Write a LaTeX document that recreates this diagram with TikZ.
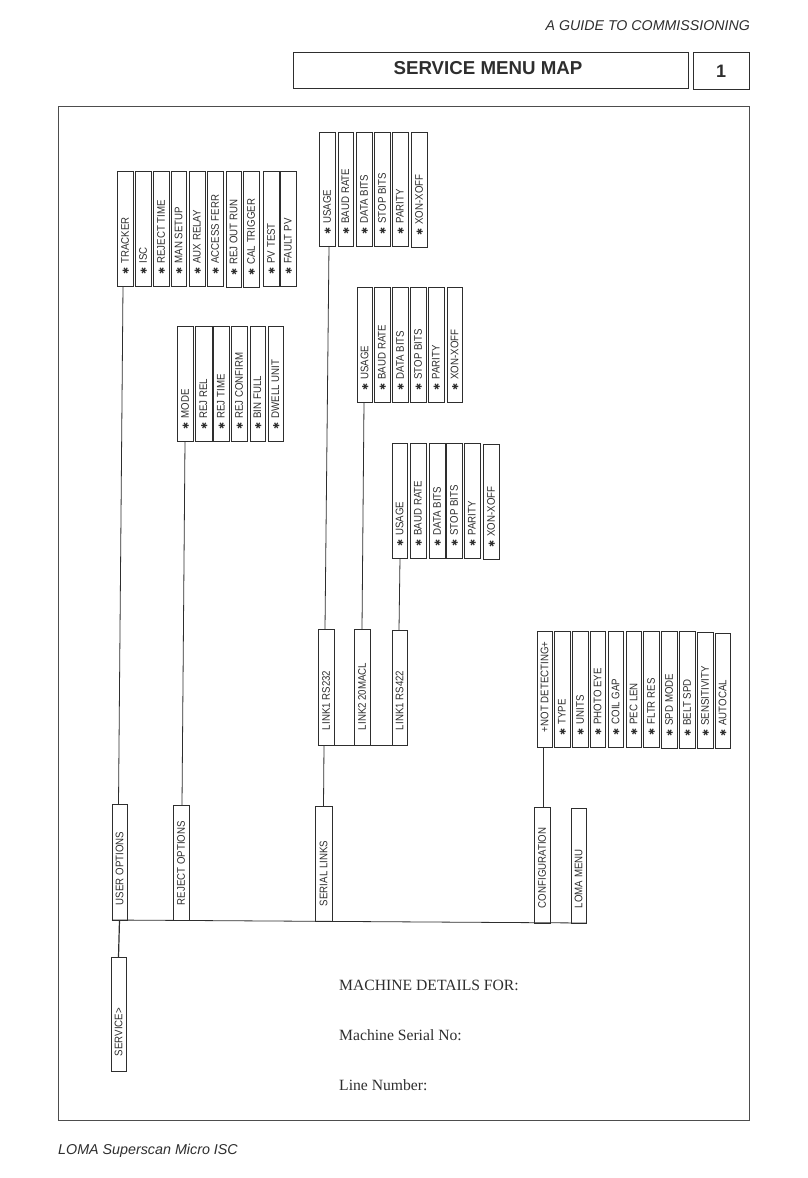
\documentclass[tikz,border=0pt]{standalone}
\usepackage{graphicx}
\usepackage{fontspec}
\setmainfont{Liberation Sans}
\newfontfamily\serifx{Liberation Serif}
\newfontfamily\starfont{DejaVu Sans}
\definecolor{ink}{HTML}{2E2E2E}
\tikzset{
  menubox/.style={draw=ink,line width=0.8pt,inner sep=0pt,outer sep=0pt,text=ink,rectangle},
  wire/.style={draw=ink,line width=0.8pt},
  framebox/.style={draw=ink,line width=0.9pt,inner sep=0pt,outer sep=0pt,rectangle},
}
\newcommand{\lab}[1]{\scalebox{0.88}[1]{\fontsize{11}{12}\selectfont #1}}
\newcommand{\starmark}{\makebox[10.5pt][l]{\raisebox{-0.1pt}{\starfont\fontsize{8.5}{10}\selectfont ✱}}}
% name x0 y0 x1 y1 text
\newcommand{\plainbox}[6]{\node[menubox,minimum width={(#4-#2)*1pt},minimum height={(#5-#3)*1pt}] (#1) at ({(#2+#4)/2},{(#3+#5)/2}) {\rotatebox[origin=c]{90}{\makebox[\dimexpr #5pt-#3pt-30pt\relax][l]{\lab{#6}}}};}
\newcommand{\starbox}[6]{\node[menubox,minimum width={(#4-#2)*1pt},minimum height={(#5-#3)*1pt}] (#1) at ({(#2+#4)/2},{(#3+#5)/2}) {\rotatebox[origin=c]{90}{\makebox[\dimexpr #5pt-#3pt-24pt\relax][l]{\starmark\lab{#6}}}};}
\begin{document}
\begin{tikzpicture}[x=1pt,y=-1pt]
\useasboundingbox (0,0) rectangle (808,1178);
% page furniture
\node[anchor=east,inner sep=0pt,text=ink] (hdr) at (750,26) {\fontsize{14.2}{17}\selectfont\itshape A GUIDE TO COMMISSIONING};
\node[framebox,minimum width=395pt,minimum height=36pt] (title) at (490.5,70.5) {};
\node[inner sep=0pt,text=ink] (titletext) at (488,68) {\fontsize{18.7}{22}\selectfont\bfseries SERVICE MENU MAP};
\node[framebox,minimum width=56pt,minimum height=37pt,font=\fontsize{18}{20}\selectfont\bfseries,text=ink] (num) at (721,71) {1};
\node[framebox,draw=ink!85,minimum width=691pt,minimum height=1014pt] (frame) at (403.5,613) {};
\node[anchor=west,inner sep=0pt,text=ink] (foot) at (58,1151) {\fontsize{14.3}{17}\selectfont\itshape LOMA Superscan Micro ISC};
% tracker group
\starbox{a1}{117}{171}{133}{286}{TRACKER}
\starbox{a2}{135}{171}{151}{286}{ISC}
\starbox{a3}{153}{171}{169}{286}{REJECT TIME}
\starbox{a4}{171}{171}{186}{286}{MAN SETUP}
\starbox{a5}{189}{171}{205}{286}{AUX RELAY}
\starbox{a6}{207}{171}{223}{286}{ACCESS FERR}
\starbox{a7}{226}{171}{241}{287}{REJ OUT RUN}
\starbox{a8}{243}{171}{259}{287}{CAL TRIGGER}
\starbox{a9}{263}{171}{279}{286}{PV TEST}
\starbox{a10}{280}{171}{296}{286}{FAULT PV}
% reject group
\starbox{b1}{177}{326}{193}{441}{MODE}
\starbox{b2}{195}{326}{212}{441}{REJ REL}
\starbox{b3}{213}{326}{229}{441}{REJ TIME}
\starbox{b4}{231}{326}{247}{441}{REJ CONFIRM}
\starbox{b5}{250}{326}{265}{441}{BIN FULL}
\starbox{b6}{268}{326}{283}{441}{DWELL UNIT}
% serial group 1
\starbox{c1}{319}{132}{335}{246}{USAGE}
\starbox{c2}{338}{132}{353}{246}{BAUD RATE}
\starbox{c3}{356}{132}{372}{246}{DATA BITS}
\starbox{c4}{374}{132}{390}{246}{STOP BITS}
\starbox{c5}{392}{132}{408}{246}{PARITY}
\starbox{c6}{411}{132}{427}{247}{XON-XOFF}
% serial group 2
\starbox{d1}{357}{287}{372}{402}{USAGE}
\starbox{d2}{374}{287}{390}{402}{BAUD RATE}
\starbox{d3}{392}{287}{408}{402}{DATA BITS}
\starbox{d4}{410}{287}{426}{402}{STOP BITS}
\starbox{d5}{428}{287}{444}{402}{PARITY}
\starbox{d6}{447}{287}{462}{402}{XON-XOFF}
% serial group 3
\starbox{e1}{392}{443}{407}{558}{USAGE}
\starbox{e2}{410}{443}{426}{558}{BAUD RATE}
\starbox{e3}{429}{443}{445}{558}{DATA BITS}
\starbox{e4}{446}{443}{462}{558}{STOP BITS}
\starbox{e5}{464}{443}{480}{558}{PARITY}
\starbox{e6}{483}{444}{499}{559}{XON-XOFF}
% links
\plainbox{l1}{318}{629}{334}{745}{LINK1 RS232}
\plainbox{l2}{354}{629}{370}{745}{LINK2 20MACL}
\plainbox{l3}{392}{630}{407}{745}{LINK1 RS422}
% configuration group
\plainbox{f0}{537}{631}{552}{747}{+NOT DETECTING+}
\starbox{f1}{554}{631}{570}{747}{TYPE}
\starbox{f2}{572}{631}{588}{747}{UNITS}
\starbox{f3}{590}{631}{605}{747}{PHOTO EYE}
\starbox{f4}{608}{631}{623}{747}{COIL GAP}
\starbox{f5}{626}{631}{641}{747}{PEC LEN}
\starbox{f6}{643}{631}{659}{747}{FLTR RES}
\starbox{f7}{661}{631}{677}{748}{SPD MODE}
\starbox{f8}{679}{631}{695}{748}{BELT SPD}
\starbox{f9}{697}{632}{713}{748}{SENSITIVITY}
\starbox{f10}{715}{633}{730}{748}{AUTOCAL}
% main row
\plainbox{m1}{112}{804}{127}{920}{USER OPTIONS}
\plainbox{m2}{173}{805}{189}{920}{REJECT OPTIONS}
\plainbox{m3}{315}{806}{332}{921}{SERIAL LINKS}
\plainbox{m4}{534}{807}{550}{923}{CONFIGURATION}
\plainbox{m5}{571}{808}{586}{923}{LOMA MENU}
\plainbox{s}{111}{957}{126}{1071}{SERVICE>}
% connectors
\draw[wire] ([xshift=-2pt]a1.south) -- ([xshift=-1pt]m1.north);
\draw[wire] ([xshift=0pt]b1.south) -- ([xshift=1pt]m2.north);
\draw[wire] ([xshift=2pt]c1.south) -- ([xshift=-1pt]l1.north);
\draw[wire] ([xshift=-0.5pt]d1.south) -- ([xshift=0pt]l2.north);
\draw[wire] ([xshift=0.5pt]e1.south) -- ([xshift=-0.5pt]l3.north);
\draw[wire] ([xshift=-2pt]l1.south) -- (m3.north);
\draw[wire] ([xshift=-1.5pt]f0.south) -- ([xshift=1pt]m4.north);
\draw[wire] (l1.south west) -- (l3.south east);
\draw[wire] (m1.south west) -- (m5.south east);
\draw[wire,line width=1.2pt] (m1.south) -- (s.north);
% machine details
\node[anchor=base west,inner sep=0pt,text=ink] (t1) at (339,990) {\serifx\fontsize{15.65}{19}\selectfont MACHINE DETAILS FOR:};
\node[anchor=base west,inner sep=0pt,text=ink] (t2) at (339,1040) {\serifx\fontsize{15.65}{19}\selectfont Machine Serial No:};
\node[anchor=base west,inner sep=0pt,text=ink] (t3) at (339,1090) {\serifx\fontsize{15.65}{19}\selectfont Line Number:};
\end{tikzpicture}
\end{document}
